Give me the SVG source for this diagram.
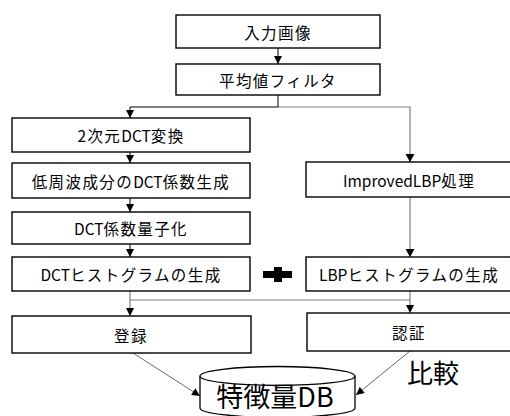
<svg xmlns="http://www.w3.org/2000/svg" width="510" height="416" viewBox="0 0 510 416">
<defs>
<marker id="ah" viewBox="0 0 10 10" refX="10" refY="5" markerWidth="9" markerHeight="8" markerUnits="userSpaceOnUse" orient="auto">
<path d="M0,0 L10,5 L0,10 Z" fill="#000"/>
</marker>
<style>
.box{fill:#fff;stroke:#000;stroke-width:1.4}
.t{font-family:"Noto Sans CJK JP","Noto Sans",sans-serif;font-size:15.5px;letter-spacing:1.4px;text-anchor:middle;dominant-baseline:central;fill:#000}
.l{letter-spacing:0px}
.blk{fill:none;stroke:#000;stroke-width:1}
.gry{fill:none;stroke:#808080;stroke-width:1.2}
.thin{fill:none;stroke:#444;stroke-width:0.8}
</style>
</defs>
<rect width="510" height="416" fill="#fff"/>
<g id="connectors">
<line class="blk" x1="278" y1="48" x2="278" y2="64" marker-end="url(#ah)"/>
<polyline class="blk" points="278,95 278,107 130,107 130,118" marker-end="url(#ah)"/>
<polyline class="gry" points="278,107 410,107 410,162"/>
<path d="M405.5,154 L414.5,154 L410,162 Z" fill="#000"/>
<line class="blk" x1="130" y1="152" x2="130" y2="163" marker-end="url(#ah)"/>
<line class="blk" x1="130" y1="198" x2="130" y2="212" marker-end="url(#ah)"/>
<line class="blk" x1="130" y1="244" x2="130" y2="257" marker-end="url(#ah)"/>
<line class="gry" x1="410" y1="197" x2="410" y2="257"/>
<path d="M405.5,249 L414.5,249 L410,257 Z" fill="#000"/>
<line class="gry" x1="130" y1="300" x2="410" y2="300"/>
<line class="gry" x1="130" y1="291" x2="130" y2="316" marker-end="url(#ah)"/>
<line class="gry" x1="410" y1="291" x2="410" y2="313" marker-end="url(#ah)"/>
<line class="thin" x1="133" y1="353" x2="200" y2="396" marker-end="url(#ah)"/>
<line class="thin" x1="410" y1="351" x2="356" y2="395" marker-end="url(#ah)"/>
</g>
<g id="n1"><rect class="box" x="176" y="15" width="204" height="33"/><text class="t" x="278" y="31.5">入力画像</text></g>
<g id="n2"><rect class="box" x="176" y="64" width="204" height="31"/><text class="t" x="278" y="79.5">平均値フィルタ</text></g>
<g id="n3"><rect class="box" x="12" y="118" width="238" height="34"/><text class="t" x="131" y="135">2次元<tspan class="l">DCT</tspan>変換</text></g>
<g id="n4"><rect class="box" x="12" y="163" width="238" height="35"/><text class="t" x="131" y="180.5">低周波成分の<tspan class="l">DCT</tspan>係数生成</text></g>
<g id="n5"><rect class="box" x="12" y="212" width="238" height="32"/><text class="t" x="131" y="228"><tspan class="l">DCT</tspan>係数量子化</text></g>
<g id="n6"><rect class="box" x="12" y="257" width="238" height="34"/><text class="t" x="131" y="274"><tspan class="l">DCT</tspan>ヒストグラムの生成</text></g>
<g id="n7"><rect class="box" x="306" y="162" width="206" height="35"/><text class="t" x="409" y="179.5"><tspan class="l">ImprovedLBP</tspan>処理</text></g>
<g id="n8"><rect class="box" x="306" y="257" width="206" height="34"/><text class="t" x="409" y="274"><tspan class="l">LBP</tspan>ヒストグラムの生成</text></g>
<g id="plus"><rect x="263" y="271" width="29" height="7" fill="#000"/><rect x="274" y="267" width="8" height="15" fill="#000"/></g>
<g id="n9"><rect class="box" x="12" y="316" width="239" height="37"/><text class="t" x="131" y="334.5">登録</text></g>
<g id="n10"><rect class="box" x="307" y="313" width="205" height="38"/><text class="t" x="409" y="332">認証</text></g>
<g id="db">
<path d="M200,376 L200,408 A77.5,9.5 0 0 0 355,408 L355,376" fill="#fff" stroke="#000" stroke-width="1.3"/>
<ellipse cx="277.5" cy="376" rx="77.5" ry="9.5" fill="#fff" stroke="#000" stroke-width="1.3"/>
<text x="275" y="407" font-family="Noto Sans CJK JP,Noto Sans,sans-serif" font-size="27" text-anchor="middle" fill="#000">特徴量DB</text>
</g>
<text x="433" y="383" font-family="Noto Sans CJK JP,Noto Sans,sans-serif" font-size="26" text-anchor="middle" fill="#000">比較</text>
</svg>
